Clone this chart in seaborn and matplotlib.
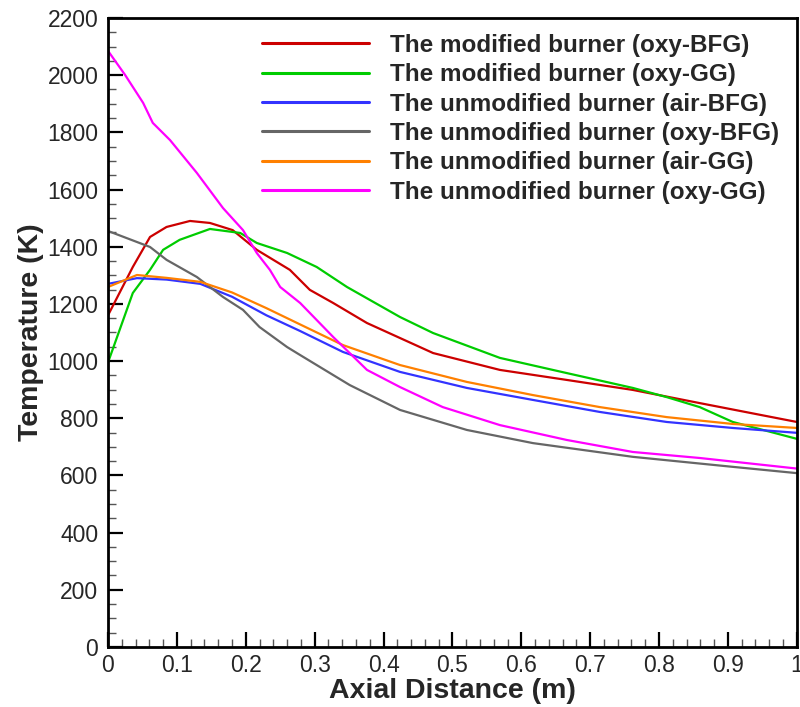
import numpy as np
import pandas as pd
import matplotlib
matplotlib.use("Agg")
import matplotlib.pyplot as plt
import seaborn as sns
from matplotlib.ticker import MultipleLocator

# ---- data ----
labels = [
    "The modified burner (oxy-BFG)",
    "The modified burner (oxy-GG)",
    "The unmodified burner (air-BFG)",
    "The unmodified burner (oxy-BFG)",
    "The unmodified burner (air-GG)",
    "The unmodified burner (oxy-GG)",
]
colors = ["#CC0000", "#00CC00", "#3333FF", "#666666", "#FF8000", "#FF00FF"]

red_x = [0.0, 0.036, 0.061, 0.085, 0.119, 0.148, 0.181, 0.216, 0.264, 0.293, 0.327, 0.376, 0.472, 0.569, 0.666, 0.762, 0.859, 1.0]
red_y = [1160, 1329, 1434, 1469, 1490, 1483, 1458, 1389, 1319, 1249, 1203, 1133, 1028, 969, 934, 899, 853, 787]

green_x = [0.0, 0.036, 0.061, 0.08, 0.104, 0.148, 0.192, 0.216, 0.26, 0.303, 0.347, 0.424, 0.472, 0.569, 0.666, 0.762, 0.811, 0.859, 0.907, 1.0]
green_y = [995, 1238, 1319, 1389, 1424, 1462, 1448, 1413, 1378, 1329, 1259, 1154, 1098, 1011, 958, 906, 874, 839, 787, 728]

blue_x = [0.0, 0.042, 0.085, 0.134, 0.18, 0.23, 0.279, 0.341, 0.424, 0.521, 0.617, 0.714, 0.811, 0.907, 1.0]
blue_y = [1270, 1290, 1285, 1270, 1225, 1160, 1105, 1032, 962, 906, 864, 822, 787, 766, 749]

gray_x = [0.0, 0.061, 0.085, 0.129, 0.167, 0.196, 0.22, 0.26, 0.279, 0.351, 0.424, 0.521, 0.617, 0.762, 0.907, 1.0]
gray_y = [1455, 1399, 1354, 1294, 1224, 1179, 1119, 1049, 1021, 916, 829, 759, 713, 665, 630, 608]

orange_x = [0.0, 0.042, 0.085, 0.134, 0.18, 0.23, 0.279, 0.341, 0.424, 0.521, 0.617, 0.714, 0.811, 0.907, 1.0]
orange_y = [1259, 1301, 1291, 1277, 1240, 1185, 1128, 1056, 986, 927, 881, 839, 804, 780, 766]

magenta_x = [0.0, 0.025, 0.051, 0.065, 0.09, 0.129, 0.167, 0.196, 0.216, 0.235, 0.25, 0.279, 0.327, 0.376, 0.424, 0.486, 0.569, 0.666, 0.762, 0.859, 1.0]
magenta_y = [2085, 2000, 1903, 1833, 1773, 1658, 1535, 1458, 1378, 1319, 1259, 1203, 1084, 969, 909, 839, 776, 724, 682, 661, 624]

xtick_labels = ["0", "0.1", "0.2", "0.3", "0.4", "0.5", "0.6", "0.7", "0.8", "0.9", "1"]

xs = [red_x, green_x, blue_x, gray_x, orange_x, magenta_x]
ys = [red_y, green_y, blue_y, gray_y, orange_y, magenta_y]

frames = []
for lab, x, y in zip(labels, xs, ys):
    frames.append(pd.DataFrame({"x": x, "T": y, "series": lab}))
df = pd.concat(frames, ignore_index=True)

# ---- style ----
sns.set_theme(style="ticks")
plt.rcParams["font.family"] = ["Liberation Sans", "DejaVu Sans"]

fig = plt.figure(figsize=(8.0, 7.07), dpi=100)
ax = fig.add_axes([0.135, 0.0849, 0.861, 0.8897])

sns.lineplot(data=df, x="x", y="T", hue="series", hue_order=labels,
             palette=colors, linewidth=1.6, sort=False, estimator=None, ax=ax)

ax.set_xlim(0, 1)
ax.set_ylim(0, 2200)
ax.xaxis.set_minor_locator(MultipleLocator(0.02))
ax.yaxis.set_major_locator(MultipleLocator(200))
ax.yaxis.set_minor_locator(MultipleLocator(50))
ax.set_xticks(np.linspace(0, 1, len(xtick_labels)))
ax.set_xticklabels(xtick_labels)

ax.tick_params(axis="both", which="major", direction="in", length=11, width=1.6,
               labelsize=16.5, color="black")
ax.tick_params(axis="x", which="major", pad=5)
ax.tick_params(axis="y", which="major", pad=7)
ax.tick_params(axis="both", which="minor", direction="in", length=6, width=1.0,
               color="#555555")
ax.tick_params(top=False, right=False, which="both")

for s in ax.spines.values():
    s.set_linewidth(2.0)
    s.set_color("black")

ax.set_xlabel("Axial Distance (m)", fontsize=20.5, fontweight="bold", labelpad=1)
ax.set_ylabel("Temperature (K)", fontsize=20.5, fontweight="bold", labelpad=2)

leg = ax.legend(loc="upper left", bbox_to_anchor=(0.2235, 0.9746), frameon=False,
                borderpad=0, borderaxespad=0,
                handlelength=4.4, handletextpad=0.86, labelspacing=0.26,
                prop={"weight": "bold", "size": 17.5})
for line in leg.get_lines():
    line.set_linewidth(2.2)

fig.savefig("out.png", dpi=100)
